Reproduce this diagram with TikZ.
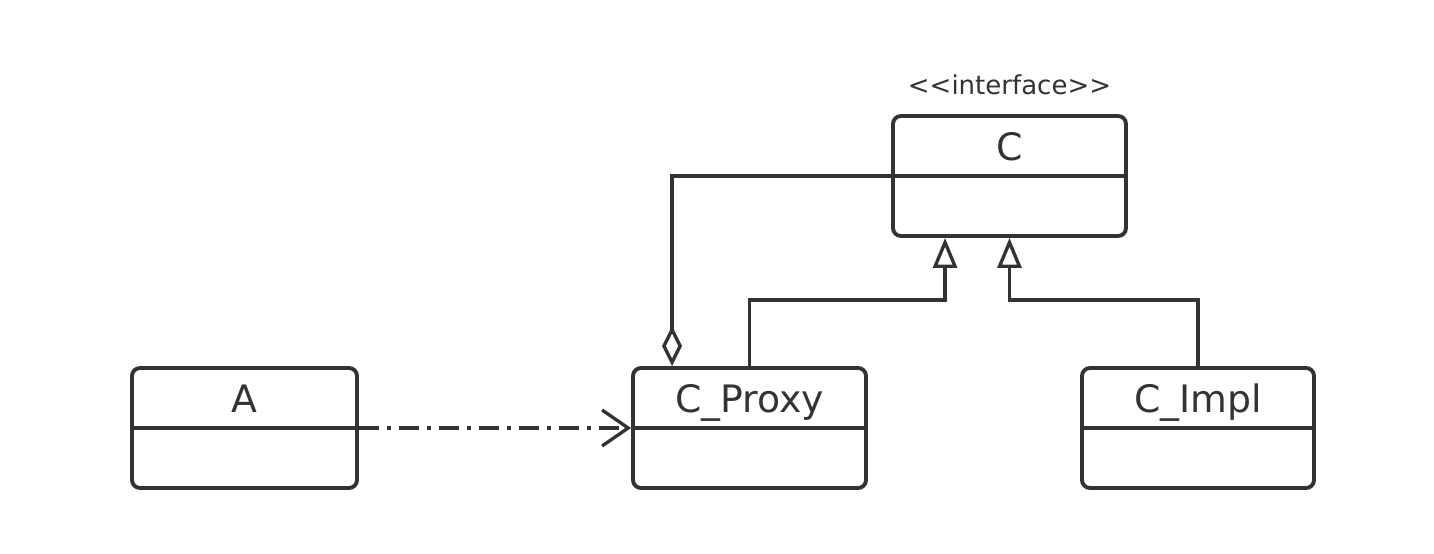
\documentclass[tikz,border=0pt]{standalone}
\usepackage{fontspec}
\setmainfont{DejaVu Sans}
\usetikzlibrary{arrows.meta,positioning,calc}
\definecolor{umlgray}{HTML}{333333}
\begin{document}
\begin{tikzpicture}[
        classbox/.style={draw=umlgray,line width=2.2pt,rounded corners=0.16cm,
            minimum width=4.66cm,minimum height=2.4cm,inner sep=0pt,
            font=\fontsize{21.5}{24}\selectfont,text=umlgray,
            text height=0.6cm,text depth=1.2cm,
            path picture={\draw[umlgray,line width=2.2pt] (path picture bounding box.west) -- (path picture bounding box.east);}},
        stereo/.style={inner sep=0pt,text depth=0pt,text=umlgray,font=\fontsize{14.8}{16}\selectfont},
        conn/.style={draw=umlgray,line width=1.9pt},
        inherit/.style={conn,-{Triangle[open,length=0.6cm,width=0.48cm]}},
        aggr/.style={conn,{Diamond[open,length=0.8cm,width=0.4cm]}-},
        depend/.style={conn,dash pattern=on 0.4cm off 0.16cm on 0.08cm off 0.16cm,-{Straight Barb[length=0.52cm,width=0.72cm]}}
    ]
    \useasboundingbox (0,0) rectangle (28.68,11.08);
    \node[classbox] (C) at (20.19,7.56) {C};
    \node[stereo,above=0.38cm of C] (Cstereo) {<\kern0pt<interface>\kern0pt>};
    \foreach \name/\x/\w/\txt in {A/4.89/4.5/A,CProxy/14.99/4.66/C\_Proxy,CImpl/23.96/4.64/C\_Impl}
        \node[classbox,minimum width=\w cm] (\name) at (\x,2.52) {\txt};
    \draw[aggr] ($(CProxy.north west)+(0.82,0)$) |- (C.west);
    \draw[inherit] (CProxy.north) -- ++(0,1.32) -| ($(C.south west)+(1.08,0)$);
    \draw[inherit] (CImpl.north) -- ++(0,1.32) -| (C.south);
    \draw[depend] (A.east) -- (CProxy.west);
\end{tikzpicture}
\end{document}
